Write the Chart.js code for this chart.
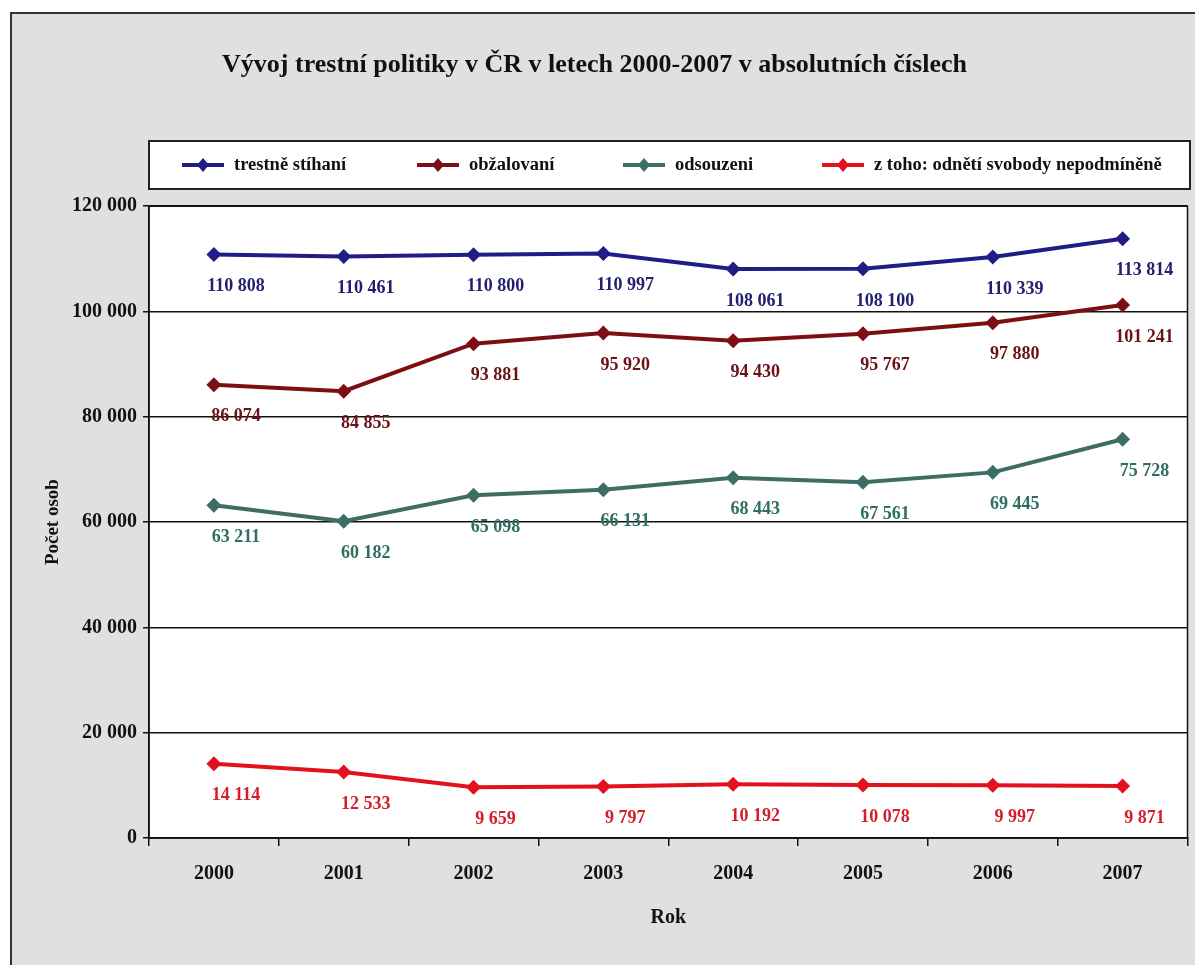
<!DOCTYPE html>
<html>
<head>
<meta charset="utf-8">
<script src="https://cdn.jsdelivr.net/npm/chart.js@4/dist/chart.umd.min.js"></script>
<style>
  body { margin: 0; background: #fff; }
  #wrap { width: 1195px; height: 965px; }
</style>
</head>
<body>
<div id="wrap"><canvas id="myChart" width="1195" height="965"></canvas></div>
<script>
// data
var years       = ['2000', '2001', '2002', '2003', '2004', '2005', '2006', '2007'];
var stihani     = [110808, 110461, 110800, 110997, 108061, 108100, 110339, 113814];
var obzalovani  = [86074, 84855, 93881, 95920, 94430, 95767, 97880, 101241];
var odsouzeni   = [63211, 60182, 65098, 66131, 68443, 67561, 69445, 75728];
var nepodminene = [14114, 12533, 9659, 9797, 10192, 10078, 9997, 9871];
var seriesNames = ['trestně stíhaní', 'obžalovaní', 'odsouzeni', 'z toho: odnětí svobody nepodmíněně'];
var yTicks      = [0, 20000, 40000, 60000, 80000, 100000, 120000];

var lineColors  = ['#211d86', '#7d0f14', '#3d6e66', '#e3101e'];
var labelColors = ['#23206e', '#6b1216', '#2f6e62', '#d41e2a'];
var serif = "'Liberation Serif', 'Times New Roman', serif";

function fmt(v) {
    return String(v).replace(/\B(?=(\d{3})+(?!\d))/g, ' ');
}

/**
 * Gray panel, white plot area and its frame.
 */
var backdrop = {
    id: 'backdrop',
    beforeDraw: function(chart) {
        var c = chart.ctx, a = chart.chartArea;
        c.save();
        c.fillStyle = '#e0e0e0';
        c.fillRect(11, 13, 1195, 965);
        c.strokeStyle = '#333';
        c.lineWidth = 2;
        c.strokeRect(11, 13, 1200, 1000);
        c.fillStyle = '#fff';
        c.fillRect(a.left, a.top, a.right - a.left, a.bottom - a.top);
        c.restore();
    },
    beforeDatasetsDraw: function(chart) {
        var c = chart.ctx, a = chart.chartArea;
        c.save();
        c.strokeStyle = '#111';
        c.lineWidth = 1.5;
        c.strokeRect(a.left, a.top, a.right - a.left, a.bottom - a.top);
        c.restore();
    }
};

/**
 * Legend in a white box, line + diamond markers.
 */
var boxLegend = {
    id: 'boxLegend',
    afterDraw: function(chart) {
        var c = chart.ctx;
        var xs = [182, 417, 623, 822];
        var y = 165;
        c.save();
        c.fillStyle = '#fff';
        c.fillRect(149, 141, 1041, 48);
        c.strokeStyle = '#222';
        c.lineWidth = 2;
        c.strokeRect(149, 141, 1041, 48);
        chart.data.datasets.forEach(function(ds, i) {
            var x = xs[i];
            c.strokeStyle = ds.borderColor;
            c.lineWidth = 4;
            c.beginPath();
            c.moveTo(x, y);
            c.lineTo(x + 42, y);
            c.stroke();
            c.fillStyle = ds.borderColor;
            c.beginPath();
            c.moveTo(x + 21, y - 7);
            c.lineTo(x + 27, y);
            c.lineTo(x + 21, y + 7);
            c.lineTo(x + 15, y);
            c.closePath();
            c.fill();
            c.fillStyle = '#111';
            c.font = 'bold 18.5px ' + serif;
            c.textBaseline = 'middle';
            c.textAlign = 'left';
            c.fillText(ds.label, x + 52, y);
        });
        c.restore();
    }
};

/**
 * Value labels under every point.
 */
var valueLabels = {
    id: 'valueLabels',
    afterDatasetsDraw: function(chart) {
        var c = chart.ctx;
        c.save();
        c.font = 'bold 18px ' + serif;
        c.textAlign = 'center';
        c.textBaseline = 'middle';
        chart.data.datasets.forEach(function(ds, i) {
            var meta = chart.getDatasetMeta(i);
            c.fillStyle = labelColors[i];
            meta.data.forEach(function(pt, j) {
                c.fillText(fmt(ds.data[j]), pt.x + 22, pt.y + 32);
            });
        });
        c.restore();
    }
};

var allSeries = [stihani, obzalovani, odsouzeni, nepodminene];

var ctx = document.getElementById('myChart').getContext('2d');

var chart = new Chart(ctx, {
    type: 'line',

    data: {
        labels: years,
        datasets: allSeries.map(function(s, i) {
            return {
                label: seriesNames[i],
                data: s,
                borderColor: lineColors[i],
                backgroundColor: lineColors[i],
                borderWidth: 4,
                tension: 0,
                pointStyle: 'rectRot',
                pointRadius: 7.5,
                pointBorderWidth: 0,
                pointHoverRadius: 7.5
            };
        })
    },

    options: {
        responsive: false,
        animation: false,
        devicePixelRatio: 1,
        layout: { padding: { left: 0, right: 6, top: 0, bottom: 0 } },
        plugins: {
            legend: { display: false },
            tooltip: { enabled: false },
            title: {
                display: true,
                text: 'Vývoj trestní politiky v ČR v letech 2000-2007 v absolutních číslech',
                color: '#111',
                font: { family: serif, size: 26, weight: 'bold' },
                padding: { top: 50, bottom: 125 }
            }
        },
        scales: {
            x: {
                offset: true,
                grid: {
                    offset: true,
                    drawOnChartArea: false,
                    drawTicks: true,
                    tickLength: 8,
                    color: '#111',
                    lineWidth: 1.5
                },
                border: { display: true, color: '#111', width: 1.5 },
                ticks: {
                    color: '#111',
                    padding: 16,
                    maxRotation: 0,
                    font: { family: serif, size: 20, weight: 'bold' }
                },
                title: {
                    display: true,
                    text: 'Rok',
                    color: '#111',
                    font: { family: serif, size: 20, weight: 'bold' },
                    padding: { top: 0, bottom: 35 }
                },
                afterFit: function(scale) { scale.height = 127; }
            },
            y: {
                min: 0,
                max: 120000,
                afterBuildTicks: function(scale) {
                    scale.ticks = yTicks.map(function(v) { return { value: v }; });
                },
                grid: {
                    color: '#111',
                    lineWidth: 1.5,
                    tickLength: 6
                },
                border: { display: true, color: '#111', width: 1.5 },
                ticks: {
                    color: '#111',
                    padding: 6,
                    font: { family: serif, size: 20, weight: 'bold' },
                    callback: function(v) { return fmt(v); }
                },
                title: {
                    display: true,
                    text: 'Počet osob',
                    color: '#111',
                    font: { family: serif, size: 19, weight: 'bold' },
                    padding: { top: 42, bottom: 0 }
                },
                afterFit: function(scale) { scale.width = 149; }
            }
        }
    },

    plugins: [backdrop, boxLegend, valueLabels]
});
</script>
</body>
</html>
